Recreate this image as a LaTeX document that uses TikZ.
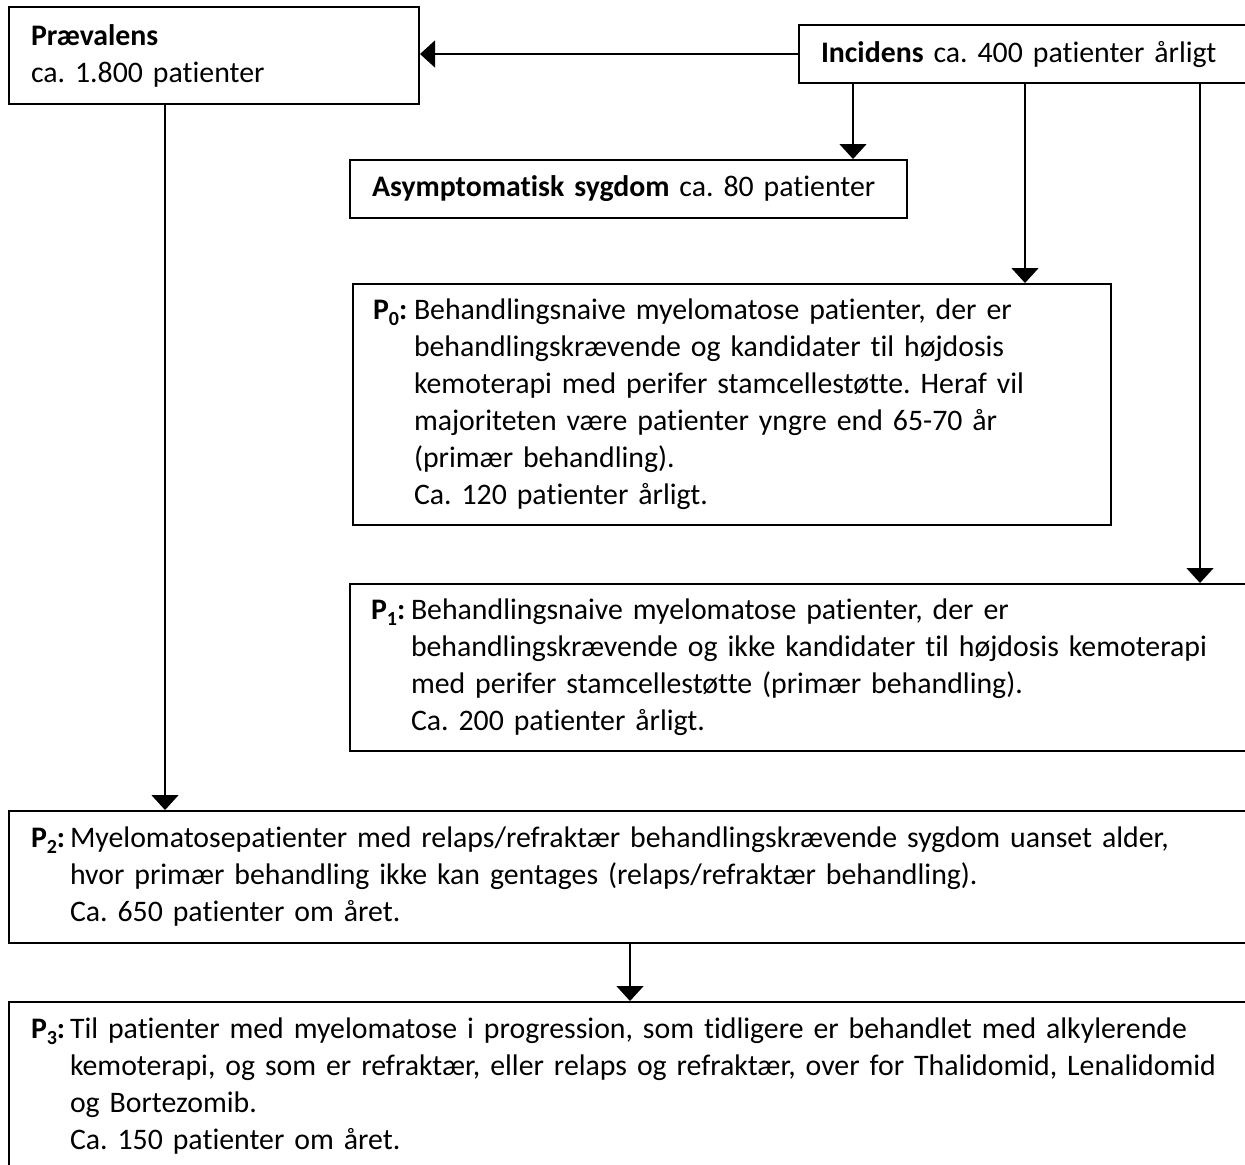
\documentclass[tikz,border=0pt]{standalone}
\usepackage{fontspec}
\setmainfont[Ligatures={TeX,NoCommon}]{Carlito}
\usepackage{tikz}
\usetikzlibrary{arrows.meta}

\newcommand{\plabel}[1]{\textbf{P\raisebox{-3pt}{\fontsize{10}{10}\selectfont #1}:}}

\begin{document}
\frenchspacing
\begin{tikzpicture}[x=0.5pt, y=-0.5pt,
    font=\fontsize{14.9}{18.5}\selectfont\frenchspacing,
    box/.style={rectangle, draw, line width=1pt, anchor=north west, align=left, inner ysep=0pt},
    arr/.style={line width=0.7pt, -{Triangle[width=13.5pt,length=7.5pt]}}]
    \clip (0,0) rectangle (1245,1164);
    \fill[white] (0,0) rectangle (1245,1164);

    % Top row
    \node[box, inner xsep=11pt, text width=183pt, minimum height=48.5pt] (praev) at (8,6)
        {\textbf{Prævalens}\\ca. 1.800 patienter};
    \node[box, inner xsep=11pt, text width=229pt, minimum height=29pt] (incid) at (798,24)
        {\textbf{Incidens} ca. 400 patienter årligt};

    % Incidens groups
    \node[box, inner xsep=11pt, text width=256.5pt, minimum height=29pt] (asym) at (349,159)
        {\mbox{\textbf{Asymptomatisk sygdom} ca. 80 patienter}};
    \node[box, inner xsep=10pt, text width=359pt, minimum height=120.5pt] (p0) at (352,283)
        {\begin{tabular}{@{}p{20.5pt}@{}l@{}}
        \plabel{0} & Behandlingsnaive myelomatose patienter, der er\\
         & behandlingskrævende og kandidater til højdosis\\
         & kemoterapi med perifer stamcellestøtte. Heraf vil\\
         & majoriteten være patienter yngre end 65-70 år\\
         & (primær behandling).\\
         & Ca. 120 patienter årligt.
        \end{tabular}};
    \node[box, inner xsep=10.5pt, text width=454.5pt, minimum height=83.5pt] (p1) at (349,583)
        {\begin{tabular}{@{}p{20pt}@{}l@{}}
        \plabel{1} & Behandlingsnaive myelomatose patienter, der er\\
         & behandlingskrævende og ikke kandidater til højdosis kemoterapi\\
         & med perifer stamcellestøtte (primær behandling).\\
         & Ca. 200 patienter årligt.
        \end{tabular}};

    % Relaps
    \node[box, inner xsep=11pt, text width=624pt, minimum height=66pt] (p2) at (8,810)
        {\begin{tabular}{@{}p{19.5pt}@{}l@{}}
        \plabel{2} & Myelomatosepatienter med relaps/refraktær behandlingskrævende sygdom uanset alder,\\
         & hvor primær behandling ikke kan gentages (relaps/refraktær behandling).\\
         & Ca. 650 patienter om året.
        \end{tabular}};
    \node[box, inner xsep=11pt, text width=624pt, minimum height=85pt] (p3) at (8,1001)
        {\begin{tabular}{@{}p{19.5pt}@{}l@{}}
        \plabel{3} & Til patienter med myelomatose i progression, som tidligere er behandlet med alkylerende\\
         & kemoterapi, og som er refraktær, eller relaps og refraktær, over for Thalidomid, Lenalidomid\\
         & og Bortezomib.\\
         & Ca. 150 patienter om året.
        \end{tabular}};

    % Connections
    \coordinate (xa) at (853,0);
    \coordinate (xb) at (1025,0);
    \coordinate (xc) at (1200,0);
    \coordinate (xd) at (165,0);
    \coordinate (xe) at (630,0);
    \draw[arr] (incid.west) -- (incid.west -| praev.east);
    \draw[arr] (xa |- incid.south) -- (xa |- asym.north);
    \draw[arr] (xb |- incid.south) -- (xb |- p0.north);
    \draw[arr] (xc |- incid.south) -- (xc |- p1.north);
    \draw[arr] (xd |- praev.south) -- (xd |- p2.north);
    \draw[arr] (xe |- p2.south) -- (xe |- p3.north);
\end{tikzpicture}
\end{document}
